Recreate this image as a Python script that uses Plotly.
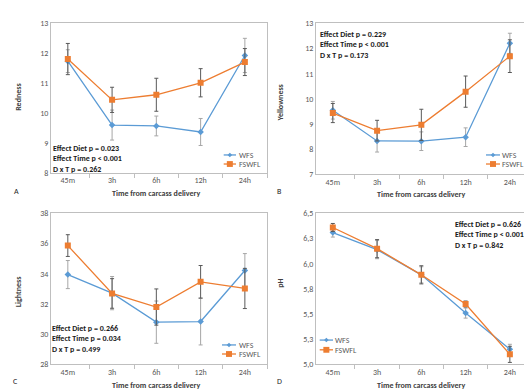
import plotly.graph_objects as go

categories = ["45m", "3h", "6h", "12h", "24h"]

redness_wfs = [11.72, 9.59, 9.56, 9.36, 11.91]
redness_wfs_err = [0.38, 0.50, 0.33, 0.45, 0.57]
redness_fswfl = [11.79, 10.43, 10.60, 11.00, 11.69]
redness_fswfl_err = [0.52, 0.42, 0.55, 0.47, 0.45]

yellow_wfs = [9.55, 8.33, 8.32, 8.48, 12.21]
yellow_wfs_err = [0.35, 0.44, 0.37, 0.37, 0.40]
yellow_fswfl = [9.44, 8.74, 8.97, 10.29, 11.70]
yellow_fswfl_err = [0.38, 0.41, 0.62, 0.62, 0.65]

light_wfs = [33.95, 32.72, 30.80, 30.84, 34.22]
light_wfs_err = [0.93, 1.10, 1.40, 1.55, 1.12]
light_fswfl = [35.87, 32.70, 31.80, 33.47, 33.03]
light_fswfl_err = [0.72, 0.98, 1.20, 1.08, 1.33]

ph_wfs = [6.31, 6.14, 5.89, 5.51, 5.15]
ph_wfs_err = [0.045, 0.09, 0.08, 0.05, 0.05]
ph_fswfl = [6.36, 6.15, 5.89, 5.60, 5.10]
ph_fswfl_err = [0.04, 0.09, 0.09, 0.03, 0.08]

ph_tickvals = [5.0, 5.25, 5.5, 5.75, 6.0, 6.25, 6.5]
ph_ticktext = ["5,0", "5,3", "5,5", "5,8", "6,0", "6,3", "6,5"]

series_names = ["WFS", "FSWFL"]
stats_a = ["Effect Diet p = 0.023", "Effect Time p < 0.001", "D x T p = 0.262"]
stats_b = ["Effect Diet p = 0.229", "Effect Time p < 0.001", "D x T p = 0.173"]
stats_c = ["Effect Diet p = 0.266", "Effect Time p = 0.034", "D x T p = 0.499"]
stats_d = ["Effect Diet p = 0.626", "Effect Time p < 0.001", "D x T p = 0.842"]

W, H = 532, 389
FONT = "Carlito, Lato, sans-serif"
BLUE = "#5B9BD5"
ORANGE = "#ED7D31"
TICKC = "#595959"
AXC = "#BFBFBF"


def px(x):
    return x / W


def py(y):
    return 1 - y / H


fig = go.Figure()

panels = [
    ("", redness_wfs, redness_wfs_err, redness_fswfl, redness_fswfl_err, (43, 259), (10, 164), [8, 13], "Redness"),
    ("2", yellow_wfs, yellow_wfs_err, yellow_fswfl, yellow_fswfl_err, (308, 524), (10.7, 165.7), [7, 13], "Yellowness"),
    ("3", light_wfs, light_wfs_err, light_fswfl, light_fswfl_err, (43, 259), (205.7, 360.7), [28, 38], "Lightness"),
    ("4", ph_wfs, ph_wfs_err, ph_fswfl, ph_fswfl_err, (308, 524), (205.7, 360.7), [5.0, 6.5], "pH"),
]

layout_axes = {}
for suf, vw, ew, vf, ef, (x0, x1), (yt, yb), yr, ytitle in panels:
    xa = "x" + suf
    ya = "y" + suf
    fig.add_trace(go.Scatter(
        x=categories, y=vw, xaxis=xa, yaxis=ya, mode="lines+markers", name=series_names[0],
        line=dict(color=BLUE, width=1.3), marker=dict(symbol="diamond", size=5, color=BLUE),
        error_y=dict(type="data", array=ew, color="#A6A6A6", thickness=1, width=2),
        showlegend=False))
    fig.add_trace(go.Scatter(
        x=categories, y=vf, xaxis=xa, yaxis=ya, mode="lines+markers", name=series_names[1],
        line=dict(color=ORANGE, width=1.3), marker=dict(symbol="square", size=6, color=ORANGE),
        error_y=dict(type="data", array=ef, color="#595959", thickness=1, width=2),
        showlegend=False))
    layout_axes["xaxis" + suf] = dict(
        domain=[px(x0), px(x1)], anchor=ya, type="category", range=[-0.38, 4.5],
        tickson="boundaries", ticks="outside", ticklen=4, tickcolor=AXC,
        showline=True, linecolor=AXC, linewidth=1, mirror=True, showgrid=False, zeroline=False,
        tickfont=dict(family=FONT, size=8, color=TICKC), fixedrange=True)
    yax = dict(
        domain=[py(yb), py(yt)], anchor=xa, range=yr,
        showline=True, linecolor=AXC, linewidth=1, mirror=True, showgrid=False, zeroline=False,
        ticks="", tickfont=dict(family=FONT, size=8, color=TICKC), fixedrange=True)
    if ytitle == "pH":
        yax.update(tickmode="array", tickvals=ph_tickvals, ticktext=ph_ticktext)
    elif ytitle == "Lightness":
        yax.update(dtick=2)
    else:
        yax.update(dtick=1)
    layout_axes["yaxis" + suf] = yax

annotations = []
shapes = []

for (cx, cy, txt) in [(147.5, 185, "Time from carcass delivery"), (413, 185.5, "Time from carcass delivery"),
                      (147.5, 381.5, "Time from carcass delivery"), (413, 381.5, "Time from carcass delivery")]:
    annotations.append(dict(x=px(cx), y=py(cy), xref="paper", yref="paper", text="<b>%s</b>" % txt,
                            showarrow=False, font=dict(family=FONT, size=8, color="#404040"),
                            xanchor="center", yanchor="middle"))
for (cx, cy, txt) in [(10, 87, "Redness"), (272, 93, "Yellowness"), (10, 286.7, "Lightness"), (272, 278, "pH")]:
    annotations.append(dict(x=px(cx), y=py(cy), xref="paper", yref="paper", text="<b>%s</b>" % txt,
                            showarrow=False, textangle=-90, font=dict(family=FONT, size=8, color="#404040"),
                            xanchor="center", yanchor="middle"))
for (cx, cy, txt) in [(8, 182.7, "A"), (271, 182.7, "B"), (7, 377.7, "C"), (271, 377.7, "D")]:
    annotations.append(dict(x=px(cx), y=py(cy), xref="paper", yref="paper", text=txt,
                            showarrow=False, font=dict(family=FONT, size=8, color="#262626"),
                            xanchor="center", yanchor="middle"))

for (lx, ly, lines) in [(44.7, 149.3, stats_a), (312.3, 32.7, stats_b), (44, 333.7, stats_c), (446.7, 227, stats_d)]:
    annotations.append(dict(x=px(lx - 2), y=py(ly), xref="paper", yref="paper",
                            text="<br>".join("<b>%s</b>" % s for s in lines), align="left",
                            showarrow=False, font=dict(family=FONT, size=8, color="#1a1a1a"),
                            xanchor="left", yanchor="middle"))

for (lx0, lx1, tx, y1, y2) in [(215.7, 228, 231, 145.7, 155), (478, 492, 494, 145.7, 155),
                               (214, 228, 231, 340.7, 350), (311.7, 325, 327, 335.7, 345.7)]:
    for (yy, col, name, sym) in [(y1, BLUE, series_names[0], "d"), (y2, ORANGE, series_names[1], "s")]:
        shapes.append(dict(type="line", xref="paper", yref="paper", x0=px(lx0), x1=px(lx1), y0=py(yy), y1=py(yy),
                           line=dict(color=col, width=1.3)))
        mx = (lx0 + lx1) / 2
        if sym == "s":
            shapes.append(dict(type="rect", xref="paper", yref="paper", x0=px(mx - 3), x1=px(mx + 3),
                               y0=py(yy + 3), y1=py(yy - 3), line=dict(width=0), fillcolor=col))
        else:
            shapes.append(dict(type="path", xref="paper", yref="paper",
                               path="M %f %f L %f %f L %f %f L %f %f Z" % (
                                   px(mx - 2.3), py(yy), px(mx), py(yy - 2.3), px(mx + 2.3), py(yy), px(mx), py(yy + 2.3)),
                               line=dict(width=0), fillcolor=col))
        annotations.append(dict(x=px(tx - 2), y=py(yy), xref="paper", yref="paper", text=name, showarrow=False,
                                font=dict(family=FONT, size=8, color=TICKC), xanchor="left", yanchor="middle",
                                align="left"))

fig.update_layout(
    width=W, height=H, margin=dict(l=0, r=0, t=0, b=0),
    paper_bgcolor="white", plot_bgcolor="white",
    annotations=annotations, shapes=shapes, showlegend=False,
    **layout_axes)

fig.write_html("out.html")
